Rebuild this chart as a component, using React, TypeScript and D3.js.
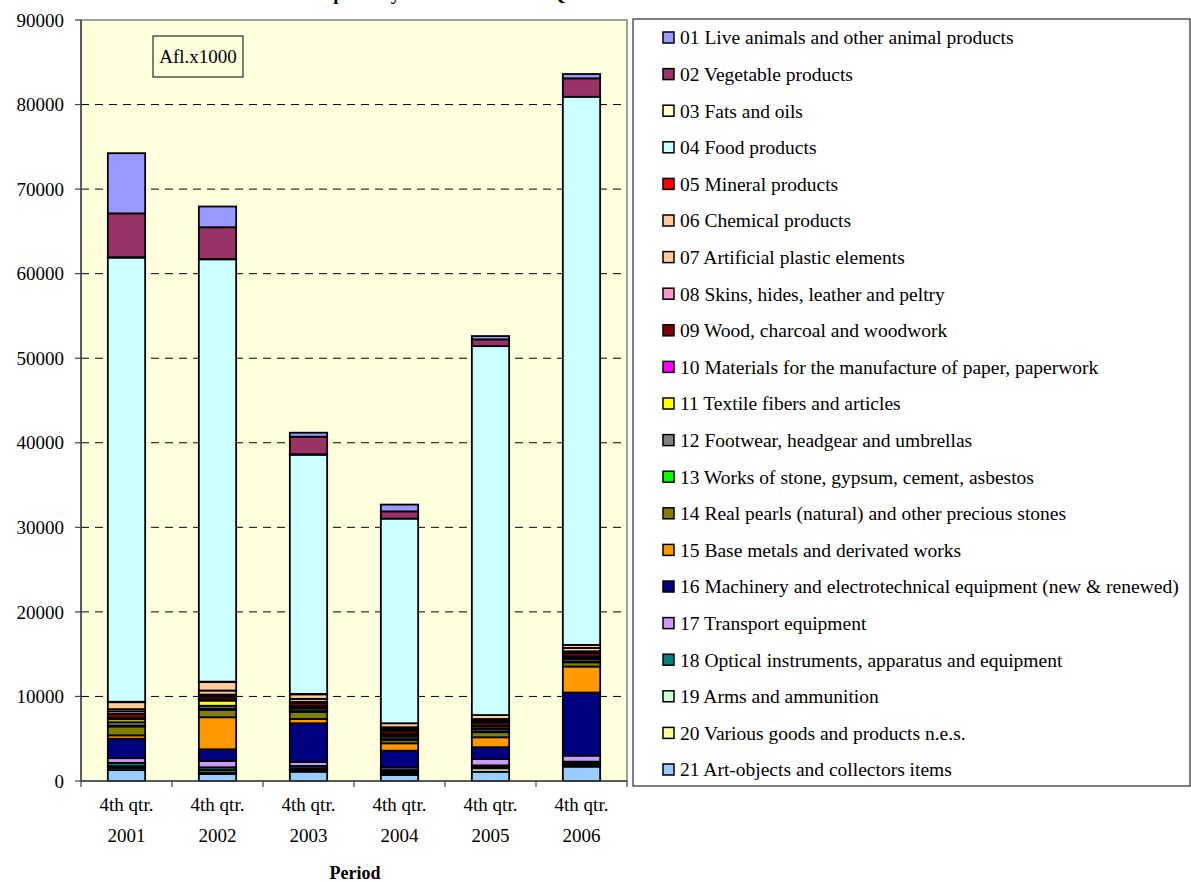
// React
import React from 'react';

// Installed packages
import * as d3 from 'd3';

// Periods on the x axis
const periods = ['2001', '2002', '2003', '2004', '2005', '2006'];

// Sections, as listed in the legend (01 is stacked on top)
const sectionNames = [
    '01 Live animals and other animal products',
    '02 Vegetable products',
    '03 Fats and oils',
    '04 Food products',
    '05 Mineral products',
    '06 Chemical products',
    '07 Artificial plastic elements',
    '08 Skins, hides, leather and peltry',
    '09 Wood, charcoal and woodwork',
    '10 Materials for the manufacture of paper, paperwork',
    '11 Textile fibers and articles',
    '12 Footwear, headgear and umbrellas',
    '13 Works of stone, gypsum, cement, asbestos',
    '14 Real pearls (natural) and other precious stones',
    '15 Base metals and derivated works',
    '16 Machinery and electrotechnical equipment (new & renewed)',
    '17 Transport equipment',
    '18 Optical instruments, apparatus and equipment',
    '19 Arms and ammunition',
    '20 Various goods and products n.e.s.',
    '21 Art-objects and collectors items',
];

const sectionColors = [
    '#9999FF', '#993366', '#FFFFCC', '#CCFFFF', '#FF0000', '#FFCC99', '#FFCC99',
    '#FF99CC', '#800000', '#FF00FF', '#FFFF00', '#808080', '#00FF00', '#808000',
    '#FF9900', '#000080', '#CC99FF', '#008080', '#CCFFCC', '#FFFF99', '#99CCFF',
];

// Values in Afl. x 1000, one per period
const s01 = [7120, 2450, 470, 800, 390, 510];
const s02 = [5180, 3740, 2080, 860, 800, 2180];
const s03 = [50, 50, 50, 0, 0, 0];
const s04 = [52530, 49950, 28290, 24200, 43630, 64820];
const s05 = [50, 50, 50, 0, 0, 0];
const s06 = [820, 1000, 530, 470, 470, 360];
const s07 = [250, 480, 350, 200, 200, 400];
const s08 = [300, 220, 100, 200, 200, 200];
const s09 = [500, 350, 400, 400, 400, 400];
const s10 = [150, 140, 100, 100, 100, 100];
const s11 = [350, 610, 200, 200, 260, 200];
const s12 = [400, 350, 300, 300, 300, 300];
const s13 = [100, 150, 100, 100, 100, 100];
const s14 = [1050, 860, 830, 400, 600, 500];
const s15 = [400, 3790, 510, 870, 1170, 3080];
const s16 = [2300, 1380, 4580, 1990, 1400, 7460];
const s17 = [550, 750, 470, 300, 750, 710];
const s18 = [400, 320, 280, 200, 200, 240];
const s19 = [200, 270, 200, 200, 150, 150];
const s20 = [250, 200, 200, 200, 400, 200];
const s21 = [1300, 830, 1100, 700, 1100, 1700];

const sectionValues = [s01, s02, s03, s04, s05, s06, s07, s08, s09, s10, s11,
    s12, s13, s14, s15, s16, s17, s18, s19, s20, s21];

const yTicks = [0, 10000, 20000, 30000, 40000, 50000, 60000, 70000, 80000, 90000];

const FONT = '"Liberation Serif", "Times New Roman", serif';
const FS = 19;

export default function App() {
    const W = 1191, H = 882;
    const plot = { left: 81, right: 627, top: 20, bottom: 781 };

    const x = d3.scaleBand<string>().domain(periods).range([plot.left, plot.right]);
    const y = d3.scaleLinear().domain([0, 90000]).range([plot.bottom, plot.top]);
    const barW = x.bandwidth() * 0.41;

    // stack bottom-up: 21 first, 01 last
    const keys = sectionNames.map((_, i) => String(i)).reverse();
    const rows = periods.map((p, j) => {
        const r: { [k: string]: number | string } = { period: p };
        sectionValues.forEach((v, i) => { r[String(i)] = v[j]; });
        return r;
    });
    const stacked = d3.stack<any>().keys(keys)(rows);

    const legendX = 633, legendTop = 19, legendBottom = 786;
    const rowH = 36.6;

    return (
        <div style={{ position: 'absolute', left: 0, top: 0 }}>
            <svg width={W} height={H} style={{ display: 'block', fontFamily: FONT }}>
                <rect width={W} height={H} fill="#fff" />

                {/* title, mostly above the visible area */}
                <text x={310} y={-0.5} fontSize={FS} fontWeight="bold">
                    Imports by Section in the 4th Quarter 2001 - 2006
                </text>

                {/* plot area */}
                <rect x={plot.left} y={plot.top} width={plot.right - plot.left} height={plot.bottom - plot.top}
                    fill="#FFFFDD" stroke="#808080" strokeWidth={1.5} />

                {yTicks.filter(t => t > 0 && t < 90000).map(t => (
                    <line key={t} x1={plot.left} x2={plot.right} y1={y(t)} y2={y(t)}
                        stroke="#000" strokeWidth={1} strokeDasharray="8,6" />
                ))}

                {/* bars */}
                {stacked.map(s => (
                    <g key={s.key} fill={sectionColors[+s.key]}>
                        {s.map((d, j) => {
                            const h = y(d[0]) - y(d[1]);
                            if (h <= 0) return null;
                            return (
                                <rect key={j} x={x(periods[j])! + (x.bandwidth() - barW) / 2} y={y(d[1])}
                                    width={barW} height={h} stroke="#000" strokeWidth={1.8} />
                            );
                        })}
                    </g>
                ))}

                {/* y axis */}
                <line x1={plot.left} x2={plot.left} y1={plot.top} y2={plot.bottom} stroke="#444" strokeWidth={1.5} />
                {yTicks.map(t => (
                    <g key={t}>
                        <line x1={plot.left - 6} x2={plot.left} y1={y(t)} y2={y(t)} stroke="#444" strokeWidth={1.2} />
                        <text x={64} y={y(t)} dy="0.35em" textAnchor="end" fontSize={FS}>{t}</text>
                    </g>
                ))}

                {/* x axis */}
                <line x1={plot.left} x2={plot.right} y1={plot.bottom} y2={plot.bottom} stroke="#444" strokeWidth={1.5} />
                {periods.map(p => (
                    <line key={p} x1={x(p)!} x2={x(p)!} y1={plot.bottom} y2={plot.bottom + 6} stroke="#444" strokeWidth={1.2} />
                ))}
                <line x1={plot.right} x2={plot.right} y1={plot.bottom} y2={plot.bottom + 6} stroke="#444" strokeWidth={1.2} />
                {periods.map(p => (
                    <text key={p} textAnchor="middle" fontSize={FS}>
                        <tspan x={x(p)! + x.bandwidth() / 2} y={811}>4th qtr.</tspan>
                        <tspan x={x(p)! + x.bandwidth() / 2} y={842}>{p}</tspan>
                    </text>
                ))}
                <text x={(plot.left + plot.right) / 2 + 1} y={879} textAnchor="middle" fontSize={FS - 1} fontWeight="bold">Period</text>

                {/* unit box */}
                <rect x={153} y={36} width={90} height={41} fill="#FFFFDD" stroke="#000" strokeWidth={1} />
                <text x={198} y={56.5} dy="0.35em" textAnchor="middle" fontSize={FS}>Afl.x1000</text>

                {/* legend */}
                <rect x={legendX} y={legendTop} width={W - legendX - 1} height={legendBottom - legendTop}
                    fill="#fff" stroke="#000" strokeWidth={1} />
                {sectionNames.map((n, i) => {
                    const cy = 37.5 + i * rowH;
                    return (
                        <g key={n}>
                            <rect x={663} y={cy - 5.5} width={11} height={11} fill={sectionColors[i]} stroke="#000" strokeWidth={1.5} />
                            <text x={680} y={cy} dy="0.35em" fontSize={19.5}>{n}</text>
                        </g>
                    );
                })}
            </svg>
        </div>
    );
}
